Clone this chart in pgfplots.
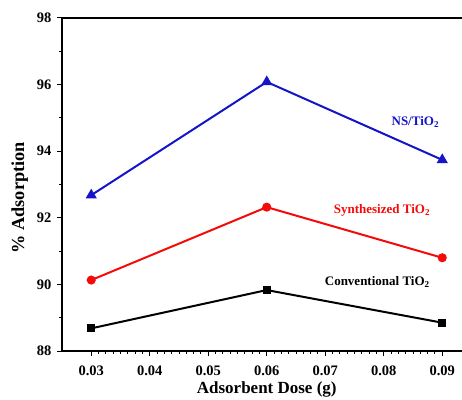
\documentclass[border=0pt]{standalone}
\usepackage{fontspec}
\setmainfont{Liberation Serif}
\usepackage{pgfplots}
\pgfplotsset{compat=1.18}
\definecolor{nsblue}{RGB}{20,20,200}
\definecolor{synred}{RGB}{245,10,10}
\begin{document}
\begin{tikzpicture}[x=1pt,y=1pt]
\clip (-62pt,-48pt) rectangle (400pt,351pt);
\begin{axis}[
  at={(0pt,0pt)}, anchor=origin,
  scale only axis,
  width=409.5pt, height=333pt,
  xmin=0.025, xmax=0.095,
  ymin=88, ymax=98,
  xtick={0.03,0.04,0.05,0.06,0.07,0.08,0.09},
  xticklabels={0.03,0.04,0.05,0.06,0.07,0.08,0.09},
  scaled x ticks=false,
  ytick={88,90,92,94,96,98},
  minor x tick num=7,
  minor y tick num=1,
  tick align=outside,
  xtick pos=bottom, ytick pos=left,
  major tick length=5pt, minor tick length=3pt,
  every tick/.style={black, line width=1pt},
  axis line style={line width=1.3pt},
  /pgf/number format/assume math mode=true,
  tick label style={font=\bfseries\fontsize{14.5}{14.5}\selectfont},
  xticklabel style={yshift=-6pt},
  yticklabel style={xshift=-2pt},
  xlabel={Adsorbent Dose (g)},
  ylabel={\% Adsorption},
  xlabel style={font=\bfseries\fontsize{17}{17}\selectfont, at={(axis description cs:0.5,-0.127)}, anchor=base},
  ylabel style={font=\bfseries\fontsize{18.3}{18.3}\selectfont, at={(axis description cs:-0.103,0.46)}, anchor=center, rotate=0},
  clip=false,
]
\addplot[color=black, line width=2pt, mark=square*, mark size=3pt] coordinates {
  (0.03,88.68) (0.06,89.83) (0.09,88.85)};
\addplot[color=synred, line width=2pt, mark=*, mark size=3.5pt] coordinates {
  (0.03,90.13) (0.06,92.32) (0.09,90.80)};
\addplot[color=nsblue, line width=2pt, mark=triangle*, mark size=4.5pt] coordinates {
  (0.03,92.68) (0.06,96.08) (0.09,93.74)};
\node[font=\bfseries\fontsize{13}{13}\selectfont, text=nsblue] at (axis cs:0.0854,94.88) {NS/TiO\textsubscript{2}};
\node[font=\bfseries\fontsize{13}{13}\selectfont, text=synred] at (axis cs:0.0797,92.23) {Synthesized TiO\textsubscript{2}};
\node[font=\bfseries\fontsize{13}{13}\selectfont, text=black] at (axis cs:0.0789,90.07) {Conventional TiO\textsubscript{2}};
\end{axis}
\end{tikzpicture}
\end{document}
